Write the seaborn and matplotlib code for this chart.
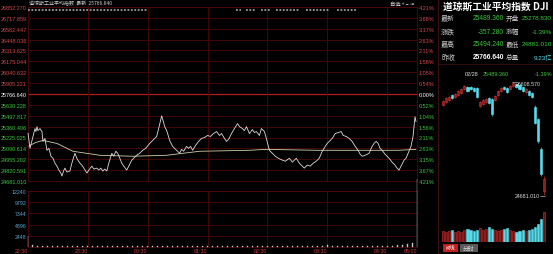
import numpy as np
import pandas as pd
import matplotlib
matplotlib.use("Agg")
import matplotlib.pyplot as plt
import seaborn as sns
from matplotlib.patches import Rectangle
from matplotlib.lines import Line2D

# ---------------- data ----------------
prev_close = 25766.64
price_lo, price_hi = 24681.01, 26852.27

price_min = [0, 2, 3, 5, 7, 8, 9, 10, 12, 14, 15, 17, 19, 21, 23, 25, 27, 29, 31, 33, 34, 36, 37, 39,
             42, 44, 47, 49, 50, 52, 54, 56, 59, 61, 64, 66, 69, 71, 73, 75, 77, 79, 81, 84, 86, 88,
             90, 92, 94, 96, 99, 101, 104, 106, 109, 112, 115, 118, 122, 125, 127, 129, 131, 134, 136,
             137, 139, 140, 142, 145, 147, 150, 152, 154, 156, 159, 161, 163, 165, 168, 171, 174, 177,
             180, 183, 186, 189, 192, 194, 197, 199, 201, 204, 207, 210, 212, 215, 217, 219, 222, 225,
             227, 229, 232, 234, 237, 239, 242, 245, 248, 251, 255, 258, 262, 265, 269, 272, 275, 277,
             280, 283, 286, 289, 292, 295, 298, 300, 302, 305, 308, 311, 314, 316, 319, 322, 325, 328,
             331, 333, 335, 338, 342, 345, 347, 349, 351, 353, 355, 358, 360, 362, 365, 368, 370, 372,
             374, 377, 379, 382, 384, 386, 387, 388, 389]
price_val = [25279, 25088, 25138, 25236, 25335, 25298, 25360, 25310, 25335, 25298, 25175, 25212, 25064,
             25088, 24990, 24965, 24904, 24867, 24817, 24780, 24743, 24817, 24842, 24793,
             24805, 24904, 25027, 24965, 24941, 24904, 24879, 24842, 24780, 24817, 24867, 24830, 24842,
             24817, 24842, 24805, 24830, 24805, 24904, 25027, 24990, 25052,
             25027, 24965, 24904, 24867, 24817, 24867, 24941, 24965, 25002, 25027, 25064, 25088, 25150,
             25187, 25212, 25237, 25335, 25495, 25409,
             25360, 25310, 25273, 25187, 25113, 25088, 25052, 25027, 25076, 25052, 25113, 25088, 25113,
             25064, 25125, 25175, 25212, 25224,
             25249, 25237, 25273, 25298, 25249, 25273, 25212, 25175, 25199, 25273, 25335, 25397, 25360,
             25335, 25310, 25360, 25273, 25323,
             25286, 25298, 25249, 25335, 25298, 25212, 25064, 25027, 24990, 24965, 24941, 24928, 24965,
             24916, 24965, 24904, 24867, 24842,
             24879, 24867, 24904, 24928, 24965, 25052, 25113, 25150, 25175, 25212, 25273, 25286, 25298,
             25249, 25237, 25212, 25175, 25113,
             25064, 25015, 24990, 25002, 25027, 25113, 25150, 25175, 25150, 25088, 25064, 25015, 24990,
             24965, 24916, 24879, 24842, 24817,
             24867, 24941, 24965, 25052, 25113, 25236, 25360, 25483, 25421]

avg_min = [0, 8, 15, 29, 45, 72, 105, 139, 172, 222, 239, 289, 322, 372, 389]
avg_val = [25113, 25163, 25187, 25150, 25052, 25002, 24990, 25002, 25052, 25064, 25076, 25064,
           25064, 25064, 25076]

vol_val = [2400, 330, 280, 300, 260, 240, 280, 250, 240, 260,
           230, 250, 240, 220, 260, 240, 230, 250, 220, 240,
           260, 230, 210, 240, 250, 220, 210, 230, 240, 210,
           200, 220, 240, 210, 230, 210, 190, 210, 230, 200,
           190, 210, 200, 195, 210, 190, 200, 210, 195, 190,
           210, 200, 190, 195, 210, 190, 200, 210, 230, 240,
           520, 260, 240, 250, 260, 240, 230, 250, 260, 240,
           250, 260, 290, 320, 360, 420, 600, 900, 14800]

event_start = [0, 209, 219, 234, 249, 279, 310]
event_end = [120, 214, 229, 244, 272, 302, 329]

left_labels = ["24681.010", "24820.591", "24955.202", "25090.614", "25225.025", "25360.406",
               "25497.817", "25630.228", "25766.640", "25905.221", "26040.632", "26175.044",
               "26313.625", "26448.036", "26582.447", "26717.859", "26852.270"]
right_labels = ["4.21%", "3.67%", "3.15%", "2.63%", "2.11%", "1.56%", "1.04%", "0.52%", "0.00%",
                "0.54%", "1.05%", "1.58%", "2.11%", "2.63%", "3.17%", "3.68%", "4.21%"]
vol_ticks = [2448, 4896, 7344, 9792, 12240]
time_ticks = [0, 60, 120, 180, 240, 300, 360, 390]
time_labels = ["22:30", "23:30", "00:30", "01:30", "02:30", "03:30", "04:30", "05:00"]

quote_left = [("最新", "25489.360"), ("涨跌", "-357.280"), ("最高", "25494.240"), ("昨收", "25766.640")]
quote_right = [("开盘", "25278.830"), ("涨幅", "-1.39%"), ("最低", "24881.010"), ("总量", "9.23亿")]

k_open = [26220, 26271, 26306, 26391, 26357, 26391, 26425, 26494, 26528, 26528, 26511, 26511,
          26203, 26237, 26271, 26340, 26323, 26306, 26391, 26459, 26528, 26511, 26494, 26545,
          26579, 26562, 26528, 26442, 26459, 26425, 26186, 25981, 25468, 24749]
k_close = [26288, 26340, 26357, 26340, 26408, 26459, 26494, 26545, 26459, 26494, 26459, 26357,
           26271, 26306, 26323, 26254, 26066, 26374, 26459, 26511, 26494, 26442, 26545, 26596,
           26528, 26494, 26459, 26494, 26391, 26357, 25912, 25604, 25040, 24955]
k_high = [26306, 26357, 26374, 26408, 26425, 26477, 26511, 26562, 26545, 26545, 26528, 26528,
          26288, 26323, 26340, 26357, 26340, 26391, 26477, 26528, 26545, 26528, 26562, 26613,
          26596, 26579, 26545, 26511, 26477, 26442, 26220, 26000, 25500, 25000]
k_low = [26203, 26254, 26288, 26323, 26340, 26374, 26408, 26477, 26442, 26477, 26442, 26340,
         26186, 26220, 26254, 26237, 26032, 26288, 26374, 26442, 26477, 26425, 26477, 26528,
         26511, 26477, 26442, 26425, 26374, 26340, 25895, 25570, 25000, 24681]
k_vol = [3.4, 3.1, 3.4, 3.7, 3.1, 3.4, 3.1, 3.7, 4.0, 3.7, 3.4, 3.7, 4.3, 3.7, 4.0, 4.6, 4.0,
         3.7, 3.4, 3.7, 4.0, 4.3, 3.7, 3.4, 3.1, 3.4, 3.7, 3.4, 3.7, 4.0, 4.6, 5.6, 7.1, 9.23]

# ---------------- style ----------------
sns.set_theme(style="dark", rc={"axes.facecolor": "black", "figure.facecolor": "black"})
plt.rcParams['font.family'] = ['Liberation Sans', 'Noto Sans CJK SC', 'DejaVu Sans']
CJK = ['Noto Sans CJK SC', 'DejaVu Sans']

RED = "#d84848"
GREEN = "#3cc83c"
GRID = "#4e0808"
CYAN = "#58dcec"

W, H = 553, 255
fig = plt.figure(figsize=(W / 100, H / 100), dpi=100, facecolor='black')


def fx(x):
    return x / W


def fy(y):
    return 1 - y / H


def T(x, y, s, **kw):
    kw.setdefault('va', 'center')
    fig.text(fx(x), fy(y), s, **kw)


def L(x1, y1, x2, y2, **kw):
    fig.add_artist(Line2D([fx(x1), fx(x2)], [fy(y1), fy(y2)], **kw))


# ---------------- main price panel ----------------
ax = fig.add_axes([fx(28), fy(182), (417 - 28) / W, (182 - 8) / H])
ax.set_facecolor('black')
levels = np.linspace(price_lo, price_hi, 17)
ax.set_xlim(0, 390)
ax.set_ylim(price_lo, price_hi)
for lv in levels:
    ax.axhline(lv, color=GRID, lw=0.6, zorder=0)
ax.axhline(prev_close, color="#b01c1c", lw=0.9, zorder=0)
for t in time_ticks[1:-1]:
    ax.axvline(t, color=GRID, lw=0.6, zorder=0)

df_p = pd.DataFrame({"minute": price_min, "price": price_val})
df_a = pd.DataFrame({"minute": avg_min, "price": avg_val})
sns.lineplot(data=df_a, x="minute", y="price", ax=ax, color="#cfcfa8", lw=0.6,
             estimator=None, sort=False, zorder=2)
sns.lineplot(data=df_p, x="minute", y="price", ax=ax, color="#dcdcdc", lw=0.6,
             estimator=None, sort=False, zorder=3)
for ln in ax.lines[-2:]:
    ln.set_clip_on(False)
ax.hlines([26815] * len(event_start), event_start, event_end, colors="#9a9a9a", lw=1.3,
          linestyles=(0, (1.0, 0.9)), zorder=3)

ax.set_xlabel("")
ax.set_ylabel("")
ax.set_yticks(levels)
ax.set_yticklabels(left_labels)
ax.set_xticks([])
ax.tick_params(axis='y', length=0, pad=1, labelsize=4)
for i, tl in enumerate(ax.get_yticklabels()):
    tl.set_color(GREEN if i < 8 else ("white" if i == 8 else RED))
for sp in ax.spines.values():
    sp.set_color(GRID)
    sp.set_linewidth(0.6)

axr = ax.twinx()
axr.set_ylim(price_lo, price_hi)
axr.set_yticks(levels)
axr.set_yticklabels(right_labels)
axr.tick_params(axis='y', length=0, pad=1, labelsize=4)
for i, tl in enumerate(axr.get_yticklabels()):
    tl.set_color(GREEN if i < 8 else ("white" if i == 8 else RED))
for sp in axr.spines.values():
    sp.set_visible(False)
axr.grid(False)

# ---------------- volume panel ----------------
axv = fig.add_axes([fx(28), fy(248), (417 - 28) / W, (248 - 192) / H])
axv.set_facecolor('black')
axv.set_xlim(0, 390)
axv.set_ylim(0, 12240)
for lv in vol_ticks:
    axv.axhline(lv, color=GRID, lw=0.6, zorder=0)
for t in time_ticks[1:-1]:
    axv.axvline(t, color=GRID, lw=0.6, zorder=0)
vol_min = np.arange(0, 391, 5)
axv.bar(vol_min, vol_val, width=1.0, color="#c4c4c4", edgecolor="#c4c4c4", linewidth=0.3,
        clip_on=False, zorder=3)
axv.set_yticks(vol_ticks)
axv.set_yticklabels([str(v) for v in vol_ticks])
axv.tick_params(axis='y', length=0, pad=1, labelsize=3.8, labelcolor="#5aaad4")
axv.set_xticks(time_ticks)
axv.set_xticklabels(time_labels, ha='right')
axv.tick_params(axis='x', length=0, pad=0.6, labelsize=3.8, labelcolor="#c83c3c")
axv.grid(False)
for sp in axv.spines.values():
    sp.set_color(GRID)
    sp.set_linewidth(0.6)

# top texts of main chart
T(29, 4, "道琼斯工业平均指数  最新  25766.640", ha='left', color="#d0d0d0", fontsize=3.6,
  family=['Noto Sans CJK SC', 'DejaVu Sans'])
T(414, 4, "自选 + − ⇥", ha='right', color="#e0e0e0", fontsize=3.8,
  family=['Noto Sans CJK SC', 'DejaVu Sans'])

# ---------------- right panel ----------------
L(438, 0, 438, 255, color="#3a1010", lw=0.8)
T(496, 6.5, "道琼斯工业平均指数 DJI", ha='center', color='white', fontsize=7, fontweight='bold',
  family=CJK)
rows_y = [19, 32, 45, 58]
for (lab, val), (lab2, val2), y in zip(quote_left, quote_right, rows_y):
    T(441, y, lab, ha='left', color="#cccccc", fontsize=5.0, family=CJK)
    vc = "white" if lab == "昨收" else GREEN
    T(504, y, val, ha='right', color=vc, fontsize=4.8,
      fontweight='bold' if lab == "昨收" else 'normal')
    T(506, y, lab2, ha='left', color="#cccccc", fontsize=4.8, family=CJK)
    vc2 = CYAN if lab2 == "总量" else GREEN
    T(552, y, val2, ha='right', color=vc2, fontsize=4.6,
      family=['Liberation Sans', 'Noto Sans CJK SC'])
L(438, 65, 553, 65, color="#3a1010", lw=0.6)
T(465, 75, "02/28", ha='left', color="#e0e0e0", fontsize=4)
T(483, 75, "25489.360", ha='left', color=GREEN, fontsize=4)
T(552, 75, "-1.39%", ha='right', color=GREEN, fontsize=4)

# candlestick mini chart
axk = fig.add_axes([fx(440), fy(200), 113 / W, 120 / H])
axk.set_facecolor('black')
axk.set_xlim(-0.98, 35.94)
axk.set_ylim(24612.6, 26664.6)
axk.axis('off')
for i, (o, c, h, l) in enumerate(zip(k_open, k_close, k_high, k_low)):
    up = c >= o
    col = "#e03434" if up else CYAN
    axk.vlines(i, l, h, color=col, lw=0.45)
    axk.add_patch(Rectangle((i - 0.35, min(o, c)), 0.7, abs(c - o),
                            facecolor='black' if up else col, edgecolor=col, lw=0.45))
T(516, 85, "26608.570", ha='left', color="#e0e0e0", fontsize=3.8)
L(512, 83, 516, 83, color="#e0e0e0", lw=0.4)
T(540, 197, "24681.010", ha='right', color="#e0e0e0", fontsize=3.8)
L(540, 197, 545, 197, color="#e0e0e0", lw=0.4)

# mini volume
axkv = fig.add_axes([fx(440), fy(243), 113 / W, 31 / H])
axkv.set_facecolor('black')
axkv.set_xlim(-0.98, 35.94)
axkv.set_ylim(0, 9.6)
axkv.axis('off')
for i, (o, c, v) in enumerate(zip(k_open, k_close, k_vol)):
    up = c >= o
    axkv.bar(i, v, width=0.7, color="#6a1010" if up else CYAN,
             edgecolor="#d03030" if up else CYAN, lw=0.4)

# buttons
fig.add_artist(Rectangle((fx(443), fy(253)), 15 / W, 8 / H, facecolor="#c02020",
                         edgecolor='none', transform=fig.transFigure))
T(450.5, 249, "K线", ha='center', color='white', fontsize=4.2, family=CJK)
fig.add_artist(Rectangle((fx(460), fy(253)), 18 / W, 8 / H, facecolor="#5a5a5a",
                         edgecolor='none', transform=fig.transFigure))
T(469, 249, "分时", ha='center', color="#dddddd", fontsize=4.2, family=CJK)

fig.savefig("out.png", dpi=100, facecolor='black')
